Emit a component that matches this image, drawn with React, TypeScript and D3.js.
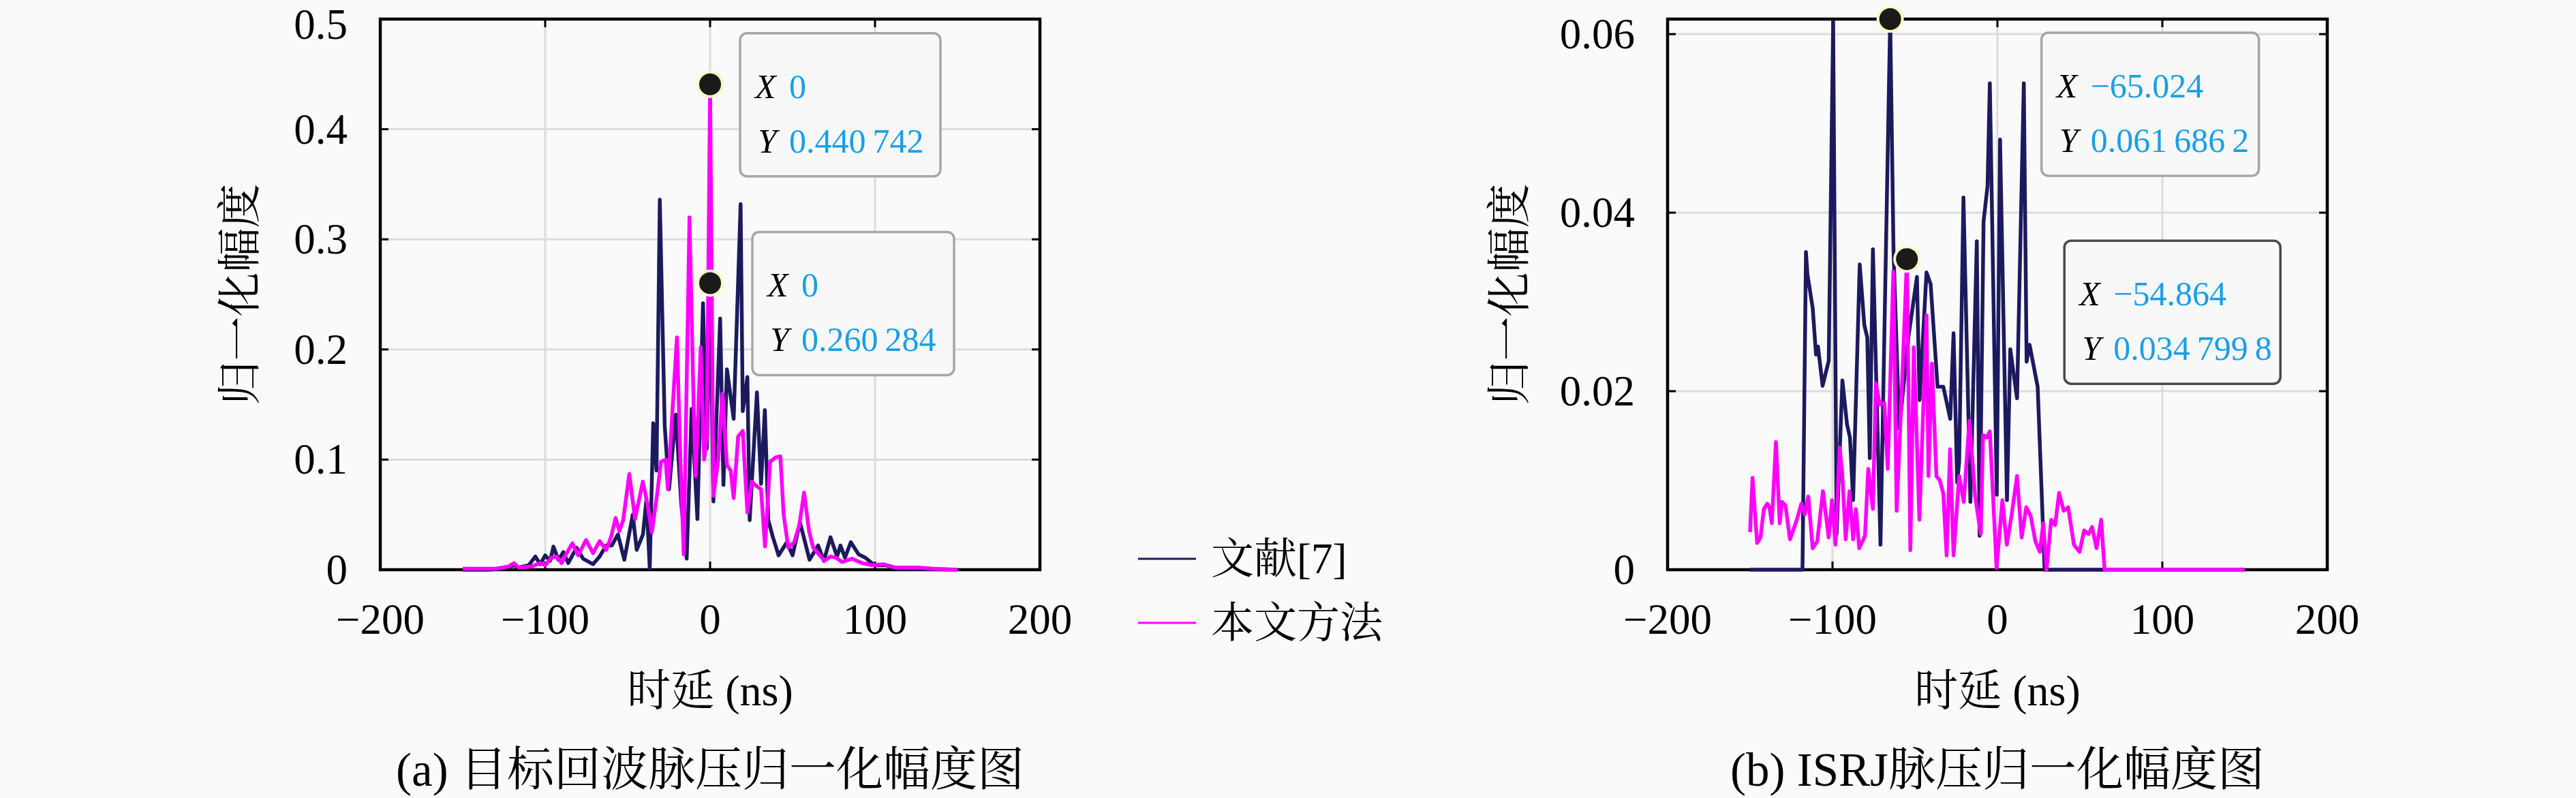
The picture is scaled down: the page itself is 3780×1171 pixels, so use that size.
import React from 'react';
import * as d3 from 'd3';

// ---- data ----
const xTicks = [-200, -100, 0, 100, 200];
const yTicksA = [0, 0.1, 0.2, 0.3, 0.4, 0.5];
const yTicksB = [0, 0.02, 0.04, 0.06];

// (a) 目标回波 — 文献[7]
const refAX = [-150, -135, -125, -119, -116, -110, -106, -103, -100, -97, -95, -92, -89, -86, -81, -77, -71, -67, -63, -59.6, -55.9, -52, -46.9, -44.5, -40.7, -38.6, -36.6, -34.5, -32.5, -30.5, -27.5, -24.9, -20.8, -17.5, -14.2, -11.2, -7.7, -4.3, -2, 0, 2, 6.1, 8.1, 10.2, 14.3, 18.5, 19.8, 22.6, 24, 28.4, 30.9, 33.2, 35.3, 38, 41.5, 46.6, 50, 54.5, 60.3, 65.5, 69, 73, 77, 79, 81.8, 85.3, 90, 94, 99.7, 106.6, 113.5, 120, 150];
const refAY = [0, 0, 0.001, 0.004, 0.002, 0.004, 0.012, 0.005, 0.013, 0.008, 0.021, 0.009, 0.016, 0.006, 0.02, 0.01, 0.005, 0.012, 0.022, 0.022, 0.032, 0.009, 0.05, 0.018, 0.032, 0.064, 0.001, 0.133, 0.09, 0.336, 0.13, 0.073, 0.141, 0.06, 0.01, 0.146, 0.046, 0.242, 0.11, 0.260284, 0.062, 0.228, 0.077, 0.182, 0.137, 0.332, 0.144, 0.175, 0.045, 0.161, 0.078, 0.145, 0.045, 0.03, 0.013, 0.025, 0.013, 0.043, 0.009, 0.022, 0.008, 0.0295, 0.012, 0.022, 0.011, 0.025, 0.014, 0.011, 0.004, 0.004, 0.001, 0.001, 0];

// (a) 目标回波 — 本文方法
const ourAX = [-150, -130, -122, -119, -116, -108, -103, -100, -96, -93, -90, -87, -83.5, -80, -75.2, -71, -67, -63, -60, -57.3, -55, -52.7, -49, -45.5, -40.8, -38, -35.3, -32, -29.8, -27, -25.6, -23, -20.1, -18, -16, -12.5, -10, -8.7, -5.7, -3.6, -2, 0, 2, 5, 7.5, 10.2, 12.5, 14.3, 17, 19.8, 22.6, 25.3, 28.1, 30.9, 33.3, 36.4, 39.7, 42.6, 44.6, 47.4, 51, 54, 57, 60, 62.5, 66, 69.3, 73, 76.3, 80, 86, 92, 98.5, 105, 112, 126, 135, 150];
const ourAY = [0.001, 0.001, 0.003, 0.006, 0.002, 0.003, 0.006, 0.004, 0.011, 0.012, 0.006, 0.015, 0.024, 0.013, 0.027, 0.015, 0.026, 0.018, 0.03, 0.047, 0.035, 0.045, 0.087, 0.046, 0.08, 0.06, 0.034, 0.07, 0.098, 0.1, 0.073, 0.14, 0.211, 0.1, 0.014, 0.32, 0.15, 0.085, 0.202, 0.1, 0.12, 0.440742, 0.067, 0.1, 0.16, 0.095, 0.09, 0.065, 0.121, 0.126, 0.052, 0.08, 0.076, 0.073, 0.021, 0.098, 0.102, 0.103, 0.05, 0.02, 0.025, 0.04, 0.07, 0.035, 0.02, 0.014, 0.008, 0.012, 0.011, 0.007, 0.01, 0.006, 0.004, 0.005, 0.002, 0.002, 0.001, 0];

// (b) ISRJ — 文献[7]
const refBX = [-150, -118.2, -116.1, -115.2, -112, -110, -108.8, -106, -102.3, -99.6, -97.5, -94, -91.2, -89.4, -87.5, -83.5, -80.7, -78.9, -77.4, -75.5, -70.9, -65.024, -63, -59.5, -54, -48.8, -47.2, -43, -40.5, -36.3, -32.8, -28.6, -26.6, -24.4, -23.2, -20.6, -16.4, -12.5, -10.8, -8.4, -6, -4.6, -0.4, 1.6, 5.8, 7.8, 11.9, 16, 17.7, 19.5, 24.4, 28.6, 150];
const refBY = [0, 0, 0.0356, 0.0331, 0.0293, 0.0241, 0.025, 0.0206, 0.0234, 0.0614, 0.004, 0.0212, 0.0163, 0.0148, 0.0078, 0.0342, 0.0274, 0.026, 0.0125, 0.0359, 0.0028, 0.0616862, 0.0357, 0.0158, 0.026, 0.0328, 0.019, 0.0333, 0.032, 0.0205, 0.0205, 0.0169, 0.0265, 0.0098, 0.012, 0.0417, 0.0076, 0.0368, 0.0038, 0.039, 0.043, 0.0545, 0.0084, 0.0482, 0.0078, 0.0247, 0.0192, 0.0545, 0.0233, 0.0252, 0.0205, 0, 0];

// (b) ISRJ — 本文方法
const ourBX = [-150, -148.5, -145.7, -143.7, -141.6, -139.5, -138.2, -136.8, -134.3, -132, -130.6, -128.5, -125.8, -121.6, -118.9, -116.8, -114.7, -112, -109.2, -105.8, -102.3, -100.3, -98.2, -95.7, -94.1, -92, -89.7, -87.5, -85.8, -83.8, -80.3, -78.3, -75.5, -73.7, -71.4, -68.6, -66.5, -63.1, -61.1, -58, -54.864, -52.8, -50.7, -47.3, -43, -41.8, -39.7, -37, -34.9, -32.8, -30.8, -28.7, -26.6, -23.2, -20.4, -17, -13.5, -10.1, -8.7, -6.5, -4.6, -0.5, 3, 5.7, 8.5, 11.9, 14.7, 17.5, 20.2, 23, 25.7, 27.8, 29.8, 32.6, 35, 37.4, 40.2, 42.9, 46.4, 49.8, 52.6, 55.3, 57.4, 60.1, 62.9, 65, 150];
const ourBY = [0.0042, 0.0103, 0.003, 0.0036, 0.0068, 0.0074, 0.007, 0.0052, 0.0143, 0.0052, 0.0076, 0.0072, 0.0034, 0.0056, 0.0074, 0.0062, 0.0082, 0.0024, 0.0032, 0.0088, 0.0036, 0.0078, 0.0028, 0.0137, 0.0109, 0.0034, 0.0088, 0.0034, 0.0068, 0.0024, 0.0038, 0.0113, 0.0068, 0.0209, 0.0185, 0.0187, 0.0113, 0.0334, 0.0066, 0.02, 0.0347998, 0.0022, 0.0249, 0.0056, 0.0285, 0.0105, 0.0231, 0.0105, 0.01, 0.0085, 0.0016, 0.0135, 0.0016, 0.0105, 0.0076, 0.0167, 0.0082, 0.004, 0.0151, 0.0148, 0.0155, 0.0002, 0.0078, 0.0028, 0.006, 0.0105, 0.0036, 0.007, 0.006, 0.0032, 0.002, 0.0052, 0, 0.0056, 0.005, 0.0086, 0.0066, 0.007, 0.0028, 0.002, 0.0044, 0.004, 0.0048, 0.0024, 0.0056, 0, 0];

// data tips
const tipsA = [
  { x: 0, y: 0.440742, xs: '0', ys: '0.440\u2009742', dx: 44, dy: -75, w: 294, sel: false },
  { x: 0, y: 0.260284, xs: '0', ys: '0.260\u2009284', dx: 62, dy: -75, w: 296, sel: false },
];
const tipsB = [
  { x: -65.024, y: 0.0616862, xs: '\u221265.024', ys: '0.061\u2009686\u20092', dx: 222, dy: 20, w: 319, sel: false },
  { x: -54.864, y: 0.0347998, xs: '\u221254.864', ys: '0.034\u2009799\u20098', dx: 231, dy: -27, w: 317, sel: true },
];

const SERIF = "'Liberation Serif', 'DejaVu Serif', 'Noto Serif CJK SC', 'Noto Sans CJK SC', serif";
const NAVY = '#1c1a5e';
const MAGENTA = '#ff00ff';
const BG = '#fafafa';
const TIPBLUE = '#1a9fe6';

const TOP = 28;
const BOTTOM = 836;
const PW = 968;

type Tip = { x: number; y: number; xs: string; ys: string; dx: number; dy: number; w: number; sel: boolean };

function Panel({ id, left, yMax, yTicks, yLabelX, rx, ry, ox, oy, tips, caption }: {
  id: string; left: number; yMax: number; yTicks: number[]; yLabelX: number;
  rx: number[]; ry: number[]; ox: number[]; oy: number[]; tips: Tip[]; caption: string;
}) {
  const x = d3.scaleLinear().domain([-200, 200]).range([left, left + PW]);
  const y = d3.scaleLinear().domain([0, yMax]).range([BOTTOM, TOP]);
  const line = d3.line<[number, number]>().x((d) => x(d[0])).y((d) => y(d[1]));
  const refPts = rx.map((v, i) => [v, ry[i]] as [number, number]);
  const ourPts = ox.map((v, i) => [v, oy[i]] as [number, number]);
  const cx = left + PW / 2;
  const fmtX = (v: number) => String(v).replace('-', '\u2212');

  return (
    <g>
      <defs>
        <clipPath id={`clip-${id}`}>
          <rect x={left} y={TOP - 4} width={PW} height={BOTTOM - TOP + 8} />
        </clipPath>
      </defs>
      {/* grid */}
      {xTicks.map((t) => (
        <line key={`gx${t}`} x1={x(t)} x2={x(t)} y1={TOP} y2={BOTTOM} stroke="#dcdcdc" strokeWidth={3} />
      ))}
      {yTicks.map((t) => (
        <line key={`gy${t}`} x1={left} x2={left + PW} y1={y(t)} y2={y(t)} stroke="#dcdcdc" strokeWidth={3} />
      ))}
      {/* box */}
      <rect x={left} y={TOP} width={PW} height={BOTTOM - TOP} fill="none" stroke="#000" strokeWidth={4.5} />
      {/* ticks, inward on all sides */}
      {xTicks.map((t) => (
        <g key={`tx${t}`}>
          <line x1={x(t)} x2={x(t)} y1={BOTTOM} y2={BOTTOM - 12} stroke="#000" strokeWidth={3} />
          <line x1={x(t)} x2={x(t)} y1={TOP} y2={TOP + 12} stroke="#000" strokeWidth={3} />
          <text x={x(t)} y={930} textAnchor="middle" fontSize={63} fontFamily={SERIF}>{fmtX(t)}</text>
        </g>
      ))}
      {yTicks.map((t) => (
        <g key={`ty${t}`}>
          <line x1={left} x2={left + 12} y1={y(t)} y2={y(t)} stroke="#000" strokeWidth={3} />
          <line x1={left + PW} x2={left + PW - 12} y1={y(t)} y2={y(t)} stroke="#000" strokeWidth={3} />
          <text x={left - 48} y={Math.max(y(t) + 21, 57)} textAnchor="end" fontSize={63} fontFamily={SERIF}>{String(t)}</text>
        </g>
      ))}
      {/* series */}
      <g clipPath={`url(#clip-${id})`}>
        <path d={line(refPts) || ''} fill="none" stroke={NAVY} strokeWidth={5.5} strokeLinejoin="round" />
        <path d={line(ourPts) || ''} fill="none" stroke={MAGENTA} strokeWidth={5.5} strokeLinejoin="round" />
      </g>
      {/* data tips */}
      {tips.map((tp, i) => {
        const mx = x(tp.x);
        const my = y(tp.y);
        const bx = mx + tp.dx;
        const by = my + tp.dy;
        return (
          <g key={`tip${i}`}>
            <circle cx={mx} cy={my} r={20} fill="#fbf8c8" />
            <circle cx={mx} cy={my} r={16} fill="#1a1a1a" />
            <rect x={bx} y={by} width={tp.w} height={210} rx={10} fill="#f8f8f8"
              stroke={tp.sel ? '#4a4a4a' : '#a6a6a6'} strokeWidth={3.5} />
            <text x={bx + 22} y={by + 95} fontSize={50} fontFamily={SERIF}>
              <tspan fontStyle="italic">X</tspan>
              <tspan x={bx + 72} fill={TIPBLUE}>{tp.xs}</tspan>
            </text>
            <text x={bx + 26} y={by + 175} fontSize={50} fontFamily={SERIF}>
              <tspan fontStyle="italic">Y</tspan>
              <tspan x={bx + 72} fill={TIPBLUE}>{tp.ys}</tspan>
            </text>
          </g>
        );
      })}
      {/* labels */}
      <text transform={`translate(${yLabelX},${(TOP + BOTTOM) / 2}) rotate(-90)`} textAnchor="middle"
        dominantBaseline="central" fontSize={65} fontFamily={SERIF}>归一化幅度</text>
      <text x={cx} y={1013} textAnchor="middle" dominantBaseline="central" fontSize={64} fontFamily={SERIF}>时延 (ns)</text>
      <text x={cx} y={1130} textAnchor="middle" dominantBaseline="central" fontSize={69} fontFamily={SERIF}>{caption}</text>
    </g>
  );
}

export default function App() {
  return (
    <svg width={3780} height={1171} viewBox="0 0 3780 1171"
      style={{ position: 'absolute', left: 0, top: 0, display: 'block', background: BG }}>
      <rect width={3780} height={1171} fill={BG} />
      <Panel id="a" left={558} yMax={0.5} yTicks={yTicksA} yLabelX={352}
        rx={refAX} ry={refAY} ox={ourAX} oy={ourAY} tips={tipsA} caption="(a) 目标回波脉压归一化幅度图" />
      <Panel id="b" left={2447} yMax={0.0616862} yTicks={yTicksB} yLabelX={2215}
        rx={refBX} ry={refBY} ox={ourBX} oy={ourBY} tips={tipsB} caption="(b) ISRJ脉压归一化幅度图" />
      {/* legend */}
      <g fontFamily={SERIF} fontSize={63}>
        <line x1={1670} x2={1755} y1={820} y2={820} stroke={NAVY} strokeWidth={3} />
        <text x={1777} y={820} dominantBaseline="central">文献[7]</text>
        <line x1={1670} x2={1755} y1={914} y2={914} stroke={MAGENTA} strokeWidth={3} />
        <text x={1777} y={914} dominantBaseline="central">本文方法</text>
      </g>
    </svg>
  );
}
